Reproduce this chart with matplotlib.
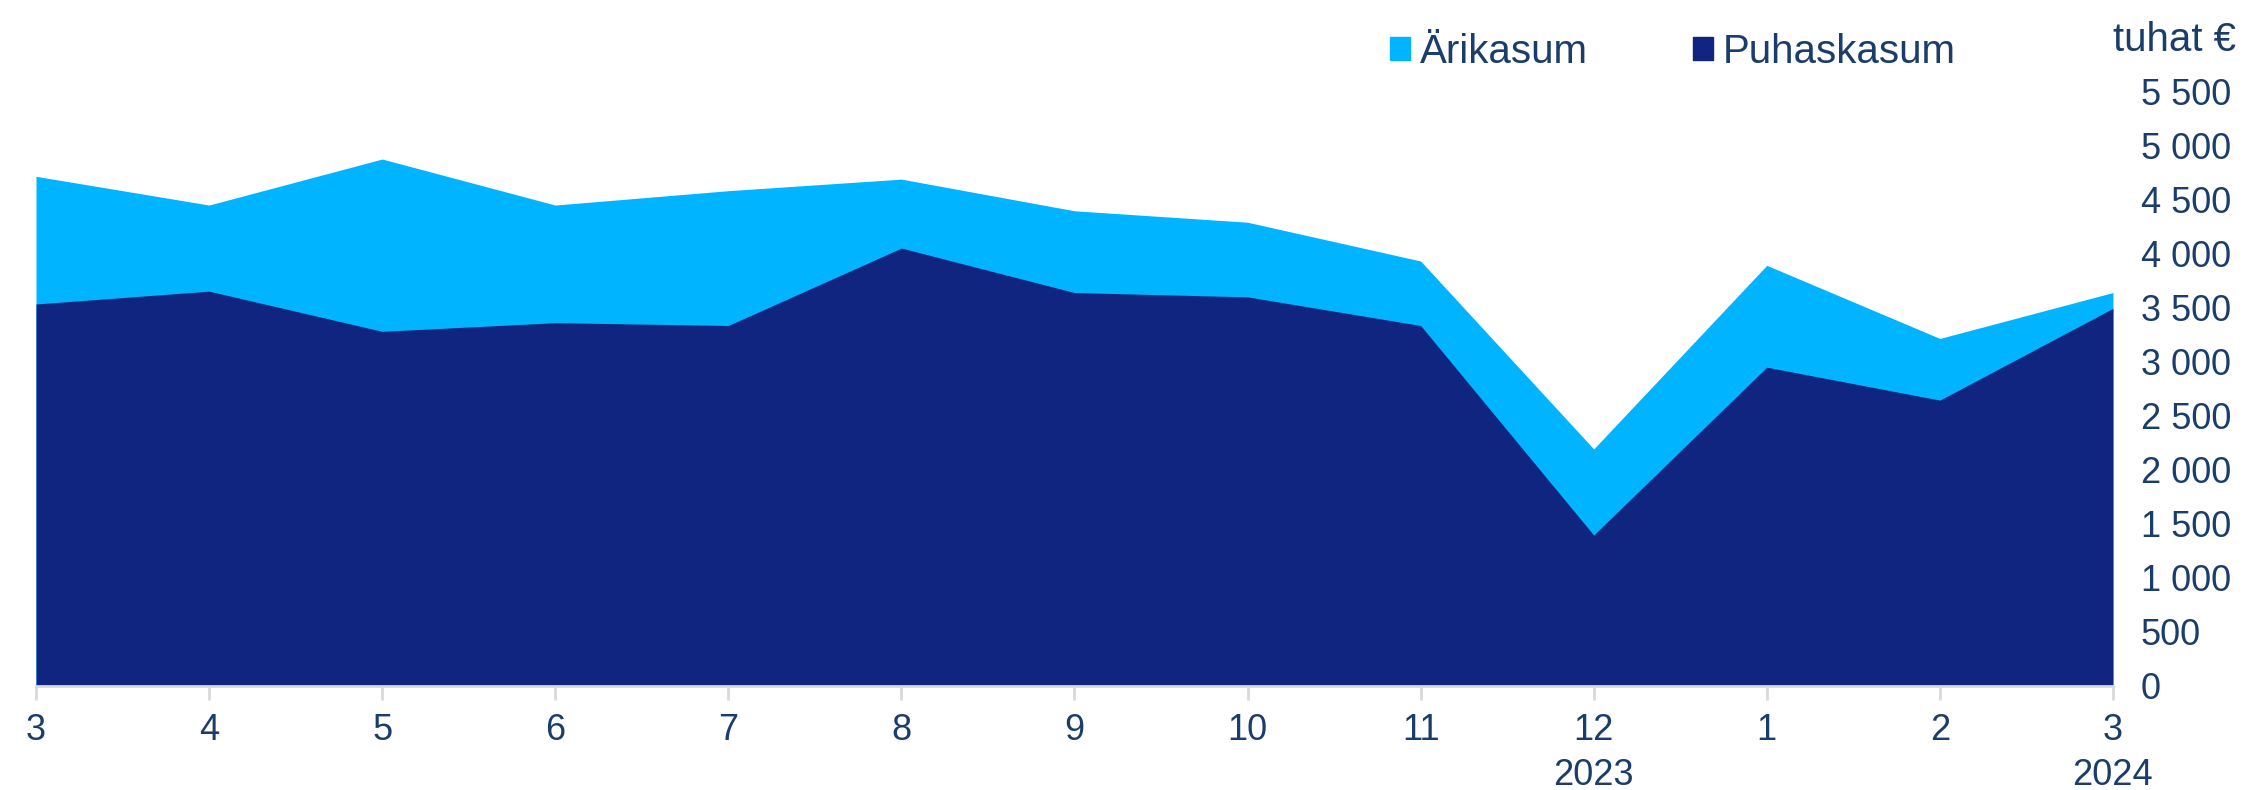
import numpy as np
import matplotlib
matplotlib.use('Agg')
import matplotlib.pyplot as plt
from matplotlib.patches import Patch

months = ['3', '4', '5', '6', '7', '8', '9', '10', '11', '12\n2023', '1', '2', '3\n2024']
arikasum = [4716, 4450, 4876, 4450, 4583, 4690, 4397, 4291, 3932, 2192, 3892, 3215, 3640]
puhaskasum = [3534, 3653, 3281, 3361, 3335, 4052, 3640, 3600, 3335, 1395, 2949, 2644, 3494]
y_ticks = list(range(0, 5501, 500))

light_blue = '#00B4FF'
navy = '#0F2580'
text_col = '#1B3D6B'

plt.rcParams['font.family'] = ['Liberation Sans', 'DejaVu Sans']

fig = plt.figure(figsize=(22.49, 7.9), dpi=100)
ax = fig.add_axes([0.016, 0.132, 0.9235, 0.752])

x = np.arange(len(months))
ax.fill_between(x, 0, arikasum, color=light_blue, linewidth=0)
ax.fill_between(x, 0, puhaskasum, color=navy, linewidth=0)

ax.set_xlim(0, len(months) - 1)
ax.set_ylim(0, 5500)
ax.set_xticks(x)
ax.set_xticklabels(months)
ax.set_yticks(y_ticks)
ax.set_yticklabels([f'{v:,}'.replace(',', ' ') for v in y_ticks])

ax.yaxis.tick_right()
ax.tick_params(axis='y', length=0, pad=20, labelsize=26, labelcolor=text_col)
ax.tick_params(axis='x', length=10, width=2, color='#D9D9D9', pad=10,
               labelsize=26, labelcolor=text_col)
for lab in ax.get_xticklabels():
    lab.set_linespacing(1.35)

for side in ['top', 'left', 'right']:
    ax.spines[side].set_visible(False)
ax.spines['bottom'].set_color('#D9D9D9')
ax.spines['bottom'].set_linewidth(2)

handles = [Patch(color=light_blue, label='Ärikasum'),
           Patch(color=navy, label='Puhaskasum')]
leg = fig.legend(handles=handles, loc='center left', bbox_to_anchor=(0.618, 0.934),
                 ncol=2, frameon=False, fontsize=29, handlelength=0.5, handleheight=0.5,
                 handletextpad=0.25, columnspacing=2.6, borderaxespad=0, borderpad=0)
for t in leg.get_texts():
    t.set_color(text_col)

fig.text(0.994, 0.949, 'tuhat €', ha='right', va='center', fontsize=29, color=text_col)

fig.savefig('out.png', dpi=100)
